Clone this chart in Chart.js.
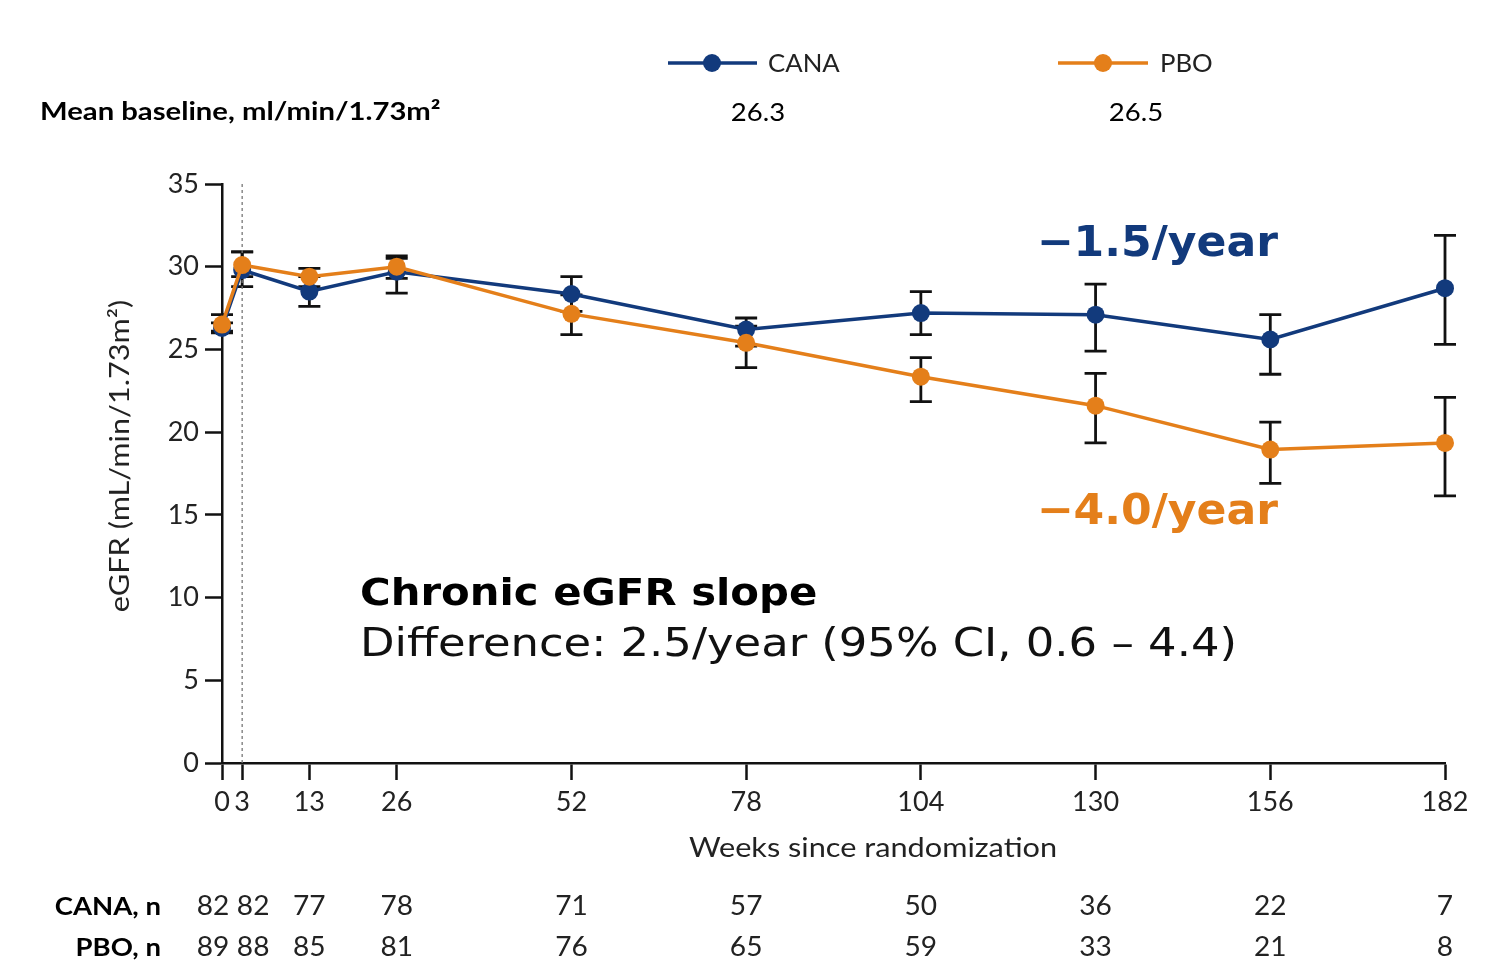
<!DOCTYPE html>
<html>
<head>
<meta charset="utf-8">
<title>Chronic eGFR slope</title>
<script src="https://cdn.jsdelivr.net/npm/chart.js@4.4.1/dist/chart.umd.min.js"></script>
<style>
  html, body { margin: 0; padding: 0; background: #fff; }
  #wrap { width: 1494px; height: 977px; }
</style>
</head>
<body>
<div id="wrap"><canvas id="egfrChart" width="1494" height="977"></canvas></div>
<script>
// ---- data ----
const weeks = [0, 3, 13, 26, 52, 78, 104, 130, 156, 182];
const xTicks = [0, 3, 13, 26, 52, 78, 104, 130, 156, 182];
const yTicks = [0, 5, 10, 15, 20, 25, 30, 35];

const seriesNames = ["CANA", "PBO"];
const baselineMeans = [26.3, 26.5];

const canaMean = [26.3, 29.8, 28.5, 29.7, 28.35, 26.2, 27.2, 27.1, 25.6, 28.7];
const canaLow  = [26.0, 28.8, 27.6, 28.4, 27.3, 25.2, 25.9, 24.9, 23.5, 25.3];
const canaHigh = [26.6, 30.9, 29.4, 30.5, 29.4, 26.9, 28.5, 28.95, 27.1, 31.9];

const pboMean = [26.5, 30.1, 29.4, 30.0, 27.15, 25.4, 23.35, 21.6, 18.95, 19.35];
const pboLow  = [26.1, 29.4, 28.8, 29.3, 25.9, 23.9, 21.85, 19.35, 16.9, 16.15];
const pboHigh = [27.1, 30.9, 29.9, 30.65, 28.3, 26.4, 24.5, 23.55, 20.6, 22.1];

const canaN = [82, 82, 77, 78, 71, 57, 50, 36, 22, 7];
const pboN  = [89, 88, 85, 81, 76, 65, 59, 33, 21, 8];

const slopeLabels = ["\u22121.5/year", "\u22124.0/year"];

// ---- styling ----
const NAVY = "#123a7c";
const ORANGE = "#e47f1a";
const INK = "#222";
const SANS = "Lato, 'Open Sans', sans-serif";
const WIDE = "'DejaVu Sans', Verdana, sans-serif";

const toPoints = (ys) => weeks.map((w, i) => ({ x: w, y: ys[i] }));

// text drawn a little wider than the font's natural width
function wideText(ctx, text, x, y, sx, align) {
  const w = ctx.measureText(text).width * sx;
  let left = x;
  if (align === "center") left = x - w / 2;
  if (align === "right") left = x - w;
  ctx.save();
  ctx.textAlign = "left";
  ctx.translate(left, y);
  ctx.scale(sx, 1);
  ctx.fillText(text, 0, 0);
  ctx.restore();
}

// error bars (95% CI) drawn under the markers
const errorBars = {
  id: "errorBars",
  beforeDatasetsDraw(chart) {
    const { ctx, scales: { x, y } } = chart;
    const sets = [[canaLow, canaHigh], [pboLow, pboHigh]];
    ctx.save();
    ctx.strokeStyle = "#111";
    ctx.lineWidth = 2.8;
    sets.forEach(([lo, hi]) => {
      weeks.forEach((w, i) => {
        const px = x.getPixelForValue(w);
        const y1 = y.getPixelForValue(lo[i]);
        const y2 = y.getPixelForValue(hi[i]);
        ctx.beginPath();
        ctx.moveTo(px, y1); ctx.lineTo(px, y2);
        ctx.moveTo(px - 11, y1); ctx.lineTo(px + 11, y1);
        ctx.moveTo(px - 11, y2); ctx.lineTo(px + 11, y2);
        ctx.stroke();
      });
    });
    // dotted reference line at week 3
    const px3 = x.getPixelForValue(3);
    ctx.strokeStyle = "#777";
    ctx.lineWidth = 1.3;
    ctx.setLineDash([3, 3]);
    ctx.beginPath();
    ctx.moveTo(px3, chart.chartArea.top);
    ctx.lineTo(px3, chart.chartArea.bottom);
    ctx.stroke();
    ctx.restore();
  }
};

// header, annotations, axis titles and numbers at risk
const extras = {
  id: "extras",
  afterDraw(chart) {
    const { ctx, scales: { x } } = chart;
    ctx.save();
    ctx.textBaseline = "middle";

    // legend
    const legend = [[668, 757, 712, 768], [1058, 1148, 1103, 1160]];
    [NAVY, ORANGE].forEach((c, i) => {
      const [x1, x2, dot, tx] = legend[i];
      ctx.strokeStyle = c; ctx.lineWidth = 3.5;
      ctx.beginPath(); ctx.moveTo(x1, 63); ctx.lineTo(x2, 63); ctx.stroke();
      ctx.fillStyle = c;
      ctx.beginPath(); ctx.arc(dot, 63, 9, 0, Math.PI * 2); ctx.fill();
      ctx.fillStyle = INK;
      ctx.font = "25px " + SANS;
      wideText(ctx, seriesNames[i], tx, 64, 1.03, "left");
    });

    // baseline row
    ctx.fillStyle = "#000";
    ctx.font = "bold 25px " + SANS;
    wideText(ctx, "Mean baseline, ml/min/1.73m\u00b2", 40, 112, 1.17, "left");
    ctx.font = "25px " + SANS;
    wideText(ctx, String(baselineMeans[0]), 758, 113, 1.1, "center");
    wideText(ctx, String(baselineMeans[1]), 1136, 113, 1.1, "center");

    // slope annotations
    ctx.font = "bold 42px " + WIDE;
    ctx.fillStyle = NAVY;
    wideText(ctx, slopeLabels[0], 1278, 245, 1.05, "right");
    ctx.fillStyle = ORANGE;
    wideText(ctx, slopeLabels[1], 1278, 513, 1.05, "right");

    // chronic slope box
    ctx.fillStyle = "#000";
    ctx.font = "bold 38px " + WIDE;
    wideText(ctx, "Chronic eGFR slope", 360, 595, 1.10, "left");
    ctx.fillStyle = "#111";
    ctx.font = "39px " + WIDE;
    wideText(ctx, "Difference: 2.5/year (95% CI, 0.6 \u2013 4.4)", 360, 646, 1.15, "left");

    // axis titles
    ctx.fillStyle = INK;
    ctx.font = "26px " + SANS;
    wideText(ctx, "Weeks since randomization", 873, 849, 1.18, "center");
    ctx.save();
    ctx.translate(121, 456);
    ctx.rotate(-Math.PI / 2);
    wideText(ctx, "eGFR (mL/min/1.73m\u00b2)", 0, 0, 1.18, "center");
    ctx.restore();

    // numbers at risk
    ctx.font = "bold 25px " + SANS;
    ctx.fillStyle = "#000";
    wideText(ctx, "CANA, n", 161, 907, 1.1, "right");
    wideText(ctx, "PBO, n", 161, 948, 1.1, "right");
    ctx.font = "26px " + SANS;
    ctx.fillStyle = INK;
    weeks.forEach((w, i) => {
      let px = x.getPixelForValue(w);
      if (w === 0) px -= 9;
      if (w === 3) px += 11;
      wideText(ctx, String(canaN[i]), px, 907, 1.08, "center");
      wideText(ctx, String(pboN[i]), px, 948, 1.08, "center");
    });
    ctx.restore();
  }
};

const ctx = document.getElementById("egfrChart").getContext("2d");

new Chart(ctx, {
  type: "line",
  data: {
    datasets: [
      {
        label: seriesNames[0],
        data: toPoints(canaMean),
        borderColor: NAVY,
        backgroundColor: NAVY,
        borderWidth: 3.5,
        pointRadius: 9,
        pointHoverRadius: 9,
        pointBorderWidth: 0,
        tension: 0,
        clip: false,
        order: 1
      },
      {
        label: seriesNames[1],
        data: toPoints(pboMean),
        borderColor: ORANGE,
        backgroundColor: ORANGE,
        borderWidth: 3.5,
        pointRadius: 9,
        pointHoverRadius: 9,
        pointBorderWidth: 0,
        tension: 0,
        clip: false,
        order: 0
      }
    ]
  },
  options: {
    responsive: false,
    animation: false,
    events: [],
    layout: { padding: { left: 0, right: 49, top: 184, bottom: 0 } },
    plugins: {
      legend: { display: false },
      tooltip: { enabled: false }
    },
    scales: {
      x: {
        type: "linear",
        min: 0,
        max: 182,
        afterBuildTicks: (s) => { s.ticks = xTicks.map(v => ({ value: v })); },
        afterFit: (s) => { s.height = 214; },
        grid: { drawOnChartArea: false, drawTicks: true, tickLength: 17, tickWidth: 2.5, tickColor: "#111" },
        border: { color: "#111", width: 2.5 },
        ticks: { autoSkip: false, maxRotation: 0, padding: 6, color: INK, font: { family: SANS, size: 27 } }
      },
      y: {
        min: 0,
        max: 35,
        afterBuildTicks: (s) => { s.ticks = yTicks.map(v => ({ value: v })); },
        afterFit: (s) => { s.width = 222; },
        grid: { drawOnChartArea: false, drawTicks: true, tickLength: 17, tickWidth: 2.5, tickColor: "#111" },
        border: { color: "#111", width: 2.5 },
        ticks: { padding: 6, color: INK, font: { family: SANS, size: 27 } }
      }
    }
  },
  plugins: [errorBars, extras]
});
</script>
</body>
</html>
